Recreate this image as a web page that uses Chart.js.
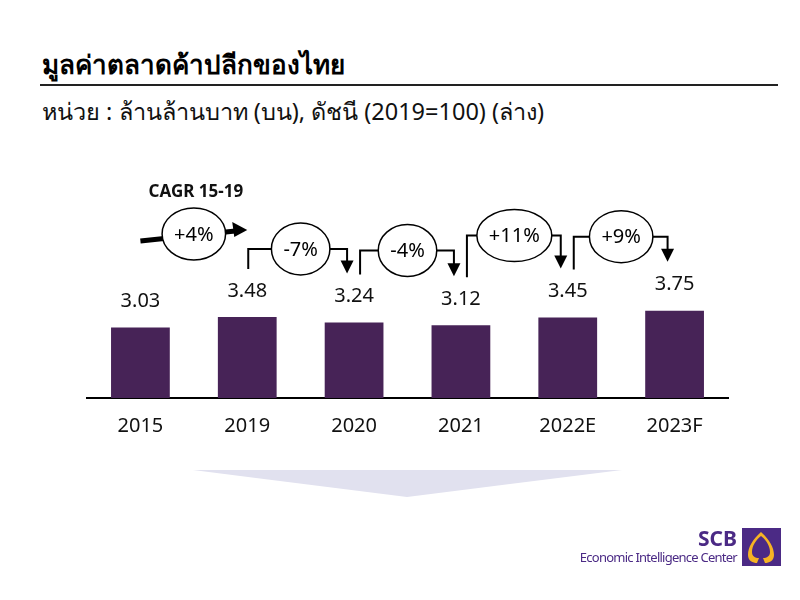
<!DOCTYPE html>
<html>
<head>
<meta charset="utf-8">
<script src="https://cdn.jsdelivr.net/npm/chart.js@4.4.0/dist/chart.umd.min.js"></script>
<style>
	body { margin: 0; background: #fff; font-family: Tahoma, "Noto Sans", "DejaVu Sans", sans-serif; }
	#wrap { position: relative; width: 800px; height: 600px; overflow: hidden; }
	#title { position: absolute; left: 42px; top: 44px; font-size: 26px; font-weight: bold; color: #000; }
	#rule { position: absolute; left: 40px; top: 84px; width: 738px; height: 2px; background: #222; }
	#sub { position: absolute; left: 42px; top: 93px; font-size: 23.5px; color: #111; }
	#chartBox { position: absolute; left: 0; top: 0; width: 800px; height: 600px; }
	#deco { position: absolute; left: 0; top: 0; }
	#scb { position: absolute; right: 63px; top: 524px; font-size: 21px; font-weight: bold; color: #4b2a85; }
	#eic { position: absolute; right: 63px; top: 548px; font-size: 13px; letter-spacing: -0.75px; color: #4b2a85; }
</style>
</head>
<body>
<div id="wrap">
	<svg id="deco" width="800" height="600">
		<polygon points="193,470 622,470 407,497" fill="#e1e1ef"/>
		<rect x="742" y="528" width="39" height="38" fill="#4b2a85"/>
		<path d="M761 532 C753 539 748 547 748 555 C748 561 753 563 757 563 L759 558 C755 558 752 556 752 552 C752 546 756 540 761 536 C766 540 770 546 770 552 C770 556 767 558 763 558 L765 563 C769 563 774 561 774 555 C774 547 769 539 761 532 Z" fill="#f5b324"/>
	</svg>
	<div id="title">มูลค่าตลาดค้าปลีกของไทย</div>
	<div id="rule"></div>
	<div id="sub">หน่วย : ล้านล้านบาท (บน), ดัชนี (2019=100) (ล่าง)</div>
	<div id="chartBox"><canvas id="retailChart" width="800" height="600"></canvas></div>
	<div id="scb">SCB</div>
	<div id="eic">Economic Intelligence Center</div>
</div>
<script>
// chart data
const years = ["2015", "2019", "2020", "2021", "2022E", "2023F"];
const marketValue = [3.03, 3.48, 3.24, 3.12, 3.45, 3.75];
const growthLabels = ["+4%", "-7%", "-4%", "+11%", "+9%"];
const cagrLabel = "CAGR 15-19";

// how far each growth bubble sits above the taller of its two bars
const bubbleLift = [83, 68, 72, 82, 74];

const FONT = 'Tahoma, "Noto Sans", "DejaVu Sans", sans-serif';
const barColor = '#472357';

const valueLabels = {
	id: 'valueLabels',
	afterDatasetsDraw: (chart) => {
		const ctx = chart.ctx;
		const meta = chart.getDatasetMeta(0);
		ctx.save();
		ctx.font = `20px ${FONT}`;
		ctx.fillStyle = '#111';
		ctx.textAlign = 'center';
		ctx.textBaseline = 'middle';
		meta.data.forEach((bar, i) => {
			ctx.fillText(marketValue[i].toFixed(2), bar.x, bar.y - 26);
		});
		ctx.restore();
	}
};

const arrowHead = (ctx, x, y, dir) => {
	ctx.beginPath();
	if (dir === 'down') {
		ctx.moveTo(x - 6.5, y - 13);
		ctx.lineTo(x + 6.5, y - 13);
		ctx.lineTo(x, y);
	} else {
		ctx.moveTo(x, y);
		ctx.lineTo(x - 15, y - 8);
		ctx.lineTo(x - 13, y + 7);
	}
	ctx.closePath();
	ctx.fill();
};

const bubble = (ctx, cx, cy, text) => {
	const w = ctx.measureText(text).width;
	const rx = Math.max(26, w / 2 + 12);
	ctx.beginPath();
	ctx.ellipse(cx, cy, rx, 26, 0, 0, Math.PI * 2);
	ctx.fillStyle = '#fff';
	ctx.fill();
	ctx.lineWidth = 1.5;
	ctx.strokeStyle = '#000';
	ctx.stroke();
	ctx.fillStyle = '#000';
	ctx.fillText(text, cx, cy + 1);
};

const growthMarks = {
	id: 'growthMarks',
	afterDatasetsDraw: (chart) => {
		const ctx = chart.ctx;
		const bars = chart.getDatasetMeta(0).data;
		ctx.save();
		ctx.textAlign = 'center';
		ctx.textBaseline = 'middle';
		growthLabels.forEach((label, i) => {
			const a = bars[i], b = bars[i + 1];
			const top = Math.min(a.y, b.y);
			const cx = (a.x + b.x) / 2;
			const cy = top - bubbleLift[i];
			ctx.font = `20px ${FONT}`;
			ctx.strokeStyle = '#000';
			ctx.fillStyle = '#000';
			if (i === 0) {
				// CAGR arrow
				ctx.lineWidth = 5;
				ctx.beginPath();
				ctx.moveTo(a.x, cy + 7);
				ctx.lineTo(b.x - 12, cy - 3);
				ctx.stroke();
				arrowHead(ctx, b.x, cy - 4, 'right');
				bubble(ctx, cx, cy, label);
				ctx.font = `bold 17px ${FONT}`;
				ctx.fillStyle = '#111';
				ctx.fillText(cagrLabel, cx + 2, cy - 42);
				return;
			}
			const left = i === 1 ? a.x + 1 : a.x + 6;
			const right = b.x - 7;
			const tip = b.y - 49;
			ctx.lineWidth = 2;
			ctx.beginPath();
			ctx.moveTo(left, a.y - 48);
			ctx.lineTo(left, cy);
			ctx.lineTo(right, cy);
			ctx.lineTo(right, tip - 8);
			ctx.stroke();
			arrowHead(ctx, right, tip, 'down');
			bubble(ctx, cx, cy, label);
		});
		ctx.restore();
	}
};

Chart.defaults.font.family = FONT;
Chart.defaults.color = '#111';

const ctx = document.getElementById('retailChart').getContext('2d');
const retailChart = new Chart(ctx, {
	type: 'bar',
	data: {
		labels: years,
		datasets: [{
			data: marketValue,
			backgroundColor: barColor,
			barPercentage: 0.55,
			categoryPercentage: 1,
		}]
	},
	options: {
		responsive: false,
		animation: false,
		layout: {
			padding: { left: 87, right: 72, top: 165, bottom: 146 }
		},
		scales: {
			x: {
				grid: { display: false, drawTicks: false },
				border: { display: true, color: '#000', width: 2 },
				ticks: { font: { size: 20 }, color: '#111', padding: 16 }
			},
			y: {
				display: false,
				min: 0,
				max: 10,
			}
		},
		plugins: {
			legend: { display: false },
			tooltip: { enabled: false },
		}
	},
	plugins: [valueLabels, growthMarks]
});
</script>
</body>
</html>
